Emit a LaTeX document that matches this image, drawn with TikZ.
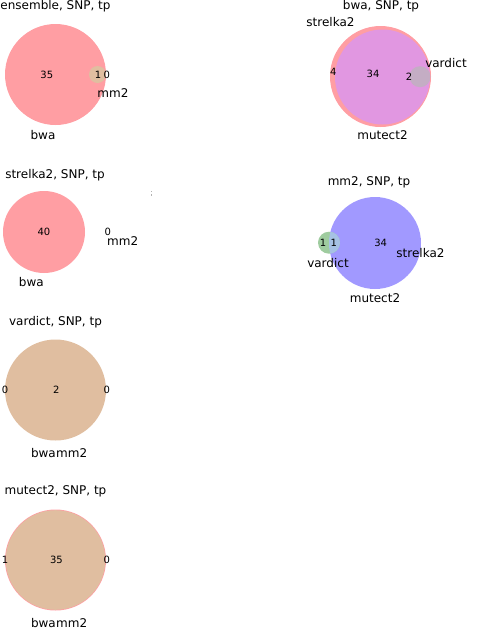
\documentclass[tikz,border=0pt]{standalone}
\usepackage{fontspec}
\setmainfont{DejaVu Sans}
\definecolor{vpink}{HTML}{FF9EA3}
\definecolor{vtan}{HTML}{E0BEA0}
\definecolor{vpurple}{HTML}{E197E1}
\definecolor{vgrey}{HTML}{C4ADC4}
\definecolor{vblue}{HTML}{A199FF}
\definecolor{vgreen}{HTML}{9FCC9F}
\definecolor{vgb}{HTML}{A6C2E4}
\begin{document}
\begin{tikzpicture}[x=1pt,y=-1pt,
  ttl/.style={anchor=base,inner sep=0pt,font=\fontsize{12}{14}\selectfont},
  lbl/.style={anchor=base,inner sep=0pt,font=\fontsize{12}{14}\selectfont},
  num/.style={anchor=center,inner sep=0pt,font=\fontsize{10}{12}\selectfont}]
\useasboundingbox (0,0) rectangle (495,638);
% ---- ensemble
\fill[vpink] (55.5,74.5) circle (50.5);
\fill[vtan] (97.5,74.5) circle (8.5);
\node[ttl] (t1) at (55.5,9.5) {ensemble, SNP, tp};
\node[num] (n1a) at (46.8,74.5) {35};
\node[num] (n1b) at (98,74.5) {1};
\node[num] (n1c) at (106.8,74.5) {0};
\node[lbl] (l1a) at (113,97) {mm2};
\node[lbl] (l1b) at (43,139) {bwa};
% ---- bwa
\fill[vpink] (380.5,76.5) circle (50.5);
\fill[vpurple] (382.5,77) circle (47.5);
\fill[vgrey] (420,76.7) circle (10.5);
\node[ttl] (t2) at (381,9.5) {bwa, SNP, tp};
\node[lbl] (l2a) at (330.5,26.3) {strelka2};
\node[lbl] (l2b) at (446,67) {vardict};
\node[lbl] (l2c) at (382.5,139.6) {mutect2};
\node[num] (n2a) at (333.2,72.3) {4};
\node[num] (n2b) at (373,74) {34};
\node[num] (n2c) at (409,76.7) {2};
% ---- strelka2
\fill[vpink] (44,232) circle (41);
\node[ttl] (t3) at (55,178.3) {strelka2, SNP, tp};
\node[num] (n3a) at (44,232) {40};
\node[num] (n3b) at (107.7,231.7) {0};
\node[lbl] (l3a) at (122.7,245.3) {mm2};
\node[lbl] (l3b) at (31.3,286.3) {bwa};
\fill[gray!60] (150.6,190.5) rectangle (151.4,192);
\fill[gray!60] (150.6,194) rectangle (151.4,195.5);
% ---- mm2
\fill[vblue] (375,243) circle (46);
\fill[vgreen] (329,242.7) circle (11);
\begin{scope}
  \clip (375,243) circle (46);
  \fill[vgb] (329,242.7) circle (11);
\end{scope}
\node[ttl] (t4) at (369,185) {mm2, SNP, tp};
\node[num] (n4a) at (323,242.7) {1};
\node[num] (n4b) at (333.7,242.7) {1};
\node[num] (n4c) at (380.7,243.3) {34};
\node[lbl] (l4a) at (420.5,257) {strelka2};
\node[lbl] (l4b) at (328,267.3) {vardict};
\node[lbl] (l4c) at (375,302) {mutect2};
% ---- vardict
\fill[vtan] (55.5,390) circle (50.5);
\node[ttl] (t5) at (55.5,325) {vardict, SNP, tp};
\node[num] (n5a) at (5,389.5) {0};
\node[num] (n5b) at (56.3,389.5) {2};
\node[num] (n5c) at (106.8,389.5) {0};
\node[lbl,anchor=base east] (l5a) at (56,457) {bwa};
\node[lbl,anchor=base west] (l5b) at (56,457) {mm2};
% ---- mutect2
\fill[vpink] (55.5,560) circle (50.5);
\fill[vtan] (55.5,560) circle (49.8);
\node[ttl] (t6) at (55.5,494.3) {mutect2, SNP, tp};
\node[num] (n6a) at (5,559.5) {1};
\node[num] (n6b) at (56.5,559.5) {35};
\node[num] (n6c) at (106.8,559.5) {0};
\node[lbl,anchor=base east] (l6a) at (56,627) {bwa};
\node[lbl,anchor=base west] (l6b) at (56,627) {mm2};
\end{tikzpicture}
\end{document}
